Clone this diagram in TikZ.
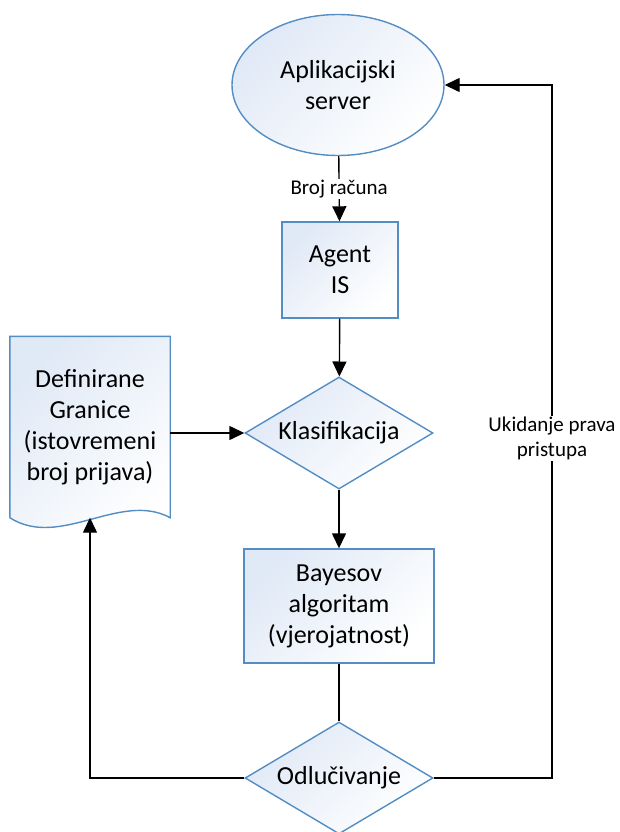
\documentclass[tikz,border=0pt]{standalone}
\usepackage{fontspec}
\setmainfont{Carlito}
\usetikzlibrary{shapes.geometric,arrows.meta,backgrounds}
\definecolor{rubplava}{RGB}{84,141,196}
\definecolor{sjenaplava}{RGB}{224,233,246}

\begin{document}
\begin{tikzpicture}[x=1pt,y=-1pt,
   blok/.style={draw=rubplava,line width=1.4pt,top color=sjenaplava,bottom color=white,
                shading angle=45,align=center,inner sep=2pt,font=\fontsize{26}{31}\selectfont},
   proces/.style={blok,rectangle},
   odluka/.style={blok,diamond,aspect=1.7,minimum width=188pt,minimum height=112pt},
   tok/.style={line width=1.4pt,-{Triangle[length=15pt,width=14pt]}},
   crta/.style={line width=1.4pt},
   opis/.style={fill=white,align=center,inner sep=1pt,font=\fontsize{21}{25}\selectfont}]
   \useasboundingbox (0,0) rectangle (620,832);

   \node[blok,ellipse,minimum width=212pt,minimum height=141pt] (server) at (338,85)
        {Aplikacijski\\server};
   \node[proces,minimum width=116pt,minimum height=96pt] (agent) at (340,270) {Agent\\IS};
   \node[odluka] (klas) at (339,433) {Klasifikacija};
   \node[proces,minimum width=190pt,minimum height=114pt] (bayes) at (339,606)
        {Bayesov\\algoritam\\(vjerojatnost)};
   \node[odluka] (odl) at (339,778) {Odlučivanje};
   \node[align=center,minimum width=160pt,minimum height=181pt,font=\fontsize{26}{31}\selectfont]
        (granice) at (90,427) {Definirane\\Granice\\(istovremeni\\broj prijava)};
   \begin{scope}[on background layer]
     \path[blok] (granice.south west) -- (granice.north west) -- (granice.north east)
        -- (granice.south east) .. controls +(-50,-27) and +(50,32) .. (granice.south west);
   \end{scope}
   \coordinate (povrat) at (552,85);

   % tok podataka
   \draw[tok] (server) -- node[opis] {Broj računa} (agent);
   \draw[tok] (agent) -- (klas);
   \draw[tok] (klas.west -| granice.east) -- (klas.west);
   \draw[tok] (klas) -- (bayes);
   \draw[crta] (bayes) -- (odl);
   \draw[tok] (odl.west) -| (granice.south);
   \draw[tok] (odl.east) -- (odl.east -| povrat)
        -- node[opis,pos=0.49] {Ukidanje prava\\pristupa} (povrat) -- (server.east);
\end{tikzpicture}
\end{document}
